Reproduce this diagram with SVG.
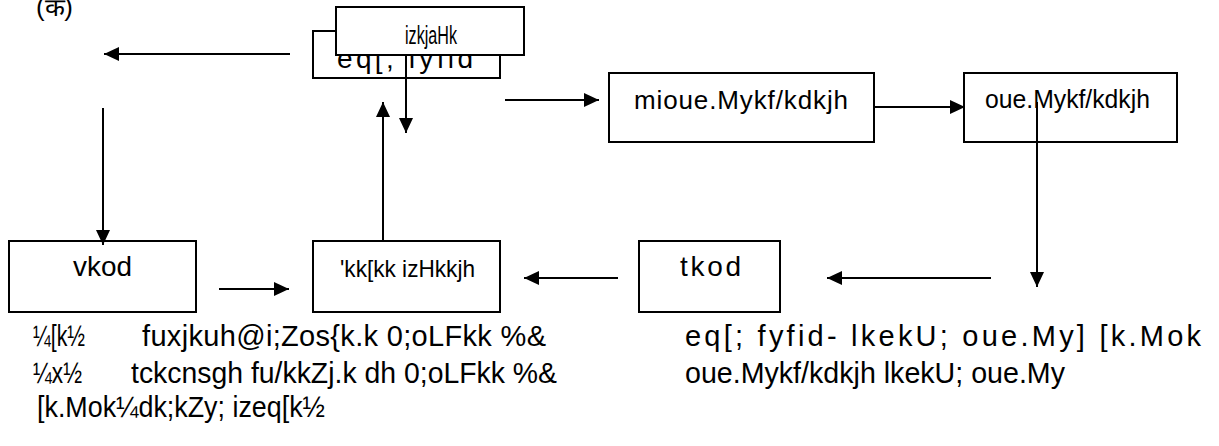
<svg xmlns="http://www.w3.org/2000/svg" width="1219" height="446" viewBox="0 0 1219 446">
<style>
.box{fill:#fff;stroke:#000;stroke-width:2}
.t{font-family:"Liberation Sans",Arial,sans-serif;fill:#000}
.s26{font-size:26px}
.s28{font-size:28px}
.s29{font-size:29px}
#connectors line{stroke:#000;stroke-width:2;fill:none}
</style>
<defs>
<marker id="ah" markerUnits="userSpaceOnUse" markerWidth="15" markerHeight="14" refX="15" refY="7" orient="auto">
<path d="M0,0L15,7L0,14z" fill="#000"/>
</marker>
</defs>
<rect width="1219" height="446" fill="#fff"/>
<text id="label-ka" class="t" x="36" y="16" font-family="'Noto Sans','Noto Sans Devanagari','Liberation Sans',sans-serif" font-size="25" textLength="37" lengthAdjust="spacingAndGlyphs">(क)</text>
<g id="node-mukhya-lipik">
<rect class="box" x="313" y="31" width="187" height="47"/>
<text class="t s28" x="337" y="68" textLength="136" lengthAdjust="spacing">eq[; fyfid</text>
</g>
<g id="node-prarambh">
<rect class="box" x="336" y="7" width="188" height="48"/>
<text class="t s26" x="405" y="44" textLength="52" lengthAdjust="spacingAndGlyphs">izkjaHk</text>
</g>
<g id="node-upvanmandaladhikari">
<rect class="box" x="609" y="73" width="265" height="69"/>
<text class="t s26" x="634" y="109" textLength="214" lengthAdjust="spacing">mioue.Mykf/kdkjh</text>
</g>
<g id="node-vanmandaladhikari">
<rect class="box" x="964" y="73" width="213" height="69"/>
<text class="t s26" x="985" y="108" textLength="165" lengthAdjust="spacingAndGlyphs">oue.Mykf/kdkjh</text>
</g>
<g id="node-aavak">
<rect class="box" x="9" y="241" width="187" height="71"/>
<text class="t s28" x="73" y="276" textLength="59" lengthAdjust="spacingAndGlyphs">vkod</text>
</g>
<g id="node-shakha-prabhari">
<rect class="box" x="313" y="241" width="187" height="71"/>
<text class="t" font-size="24" x="340" y="277" textLength="135" lengthAdjust="spacingAndGlyphs">'kk[kk izHkkjh</text>
</g>
<g id="node-jaavak">
<rect class="box" x="639" y="241" width="141" height="71"/>
<text class="t s28" x="680" y="276" textLength="61" lengthAdjust="spacing">tkod</text>
</g>
<g id="connectors">
<line x1="290" y1="54" x2="104" y2="54" marker-end="url(#ah)"/>
<line x1="406" y1="55" x2="406" y2="133" marker-end="url(#ah)"/>
<line x1="383" y1="241" x2="383" y2="102" marker-end="url(#ah)"/>
<line x1="505" y1="100" x2="599" y2="100" marker-end="url(#ah)"/>
<line x1="874" y1="107" x2="965" y2="107" marker-end="url(#ah)"/>
<line x1="1037" y1="102" x2="1037" y2="287" marker-end="url(#ah)"/>
<line x1="991" y1="278" x2="827" y2="278" marker-end="url(#ah)"/>
<line x1="618" y1="278" x2="524" y2="278" marker-end="url(#ah)"/>
<line x1="219" y1="289" x2="289" y2="289" marker-end="url(#ah)"/>
<line x1="103" y1="108" x2="103" y2="245" marker-end="url(#ah)"/>
</g>
<g id="notes">
<text class="t s29" x="33" y="346" textLength="52" lengthAdjust="spacingAndGlyphs">¼[k½</text>
<text class="t s29" x="142" y="346" textLength="404" lengthAdjust="spacing">fuxjkuh@i;Zos{k.k 0;oLFkk %&amp;</text>
<text class="t s29" x="33" y="383" textLength="49" lengthAdjust="spacingAndGlyphs">¼x½</text>
<text class="t s29" x="131" y="383" textLength="426" lengthAdjust="spacingAndGlyphs">tckcnsgh fu/kkZj.k dh 0;oLFkk %&amp;</text>
<text class="t s29" x="37" y="417" textLength="288" lengthAdjust="spacingAndGlyphs">[k.Mok¼dk;kZy; izeq[k½</text>
<text class="t s29" x="685" y="346" textLength="516" lengthAdjust="spacing">eq[; fyfid- lkekU; oue.My] [k.Mok</text>
<text class="t s29" x="685" y="383" textLength="380" lengthAdjust="spacingAndGlyphs">oue.Mykf/kdkjh lkekU; oue.My</text>
</g>
</svg>
